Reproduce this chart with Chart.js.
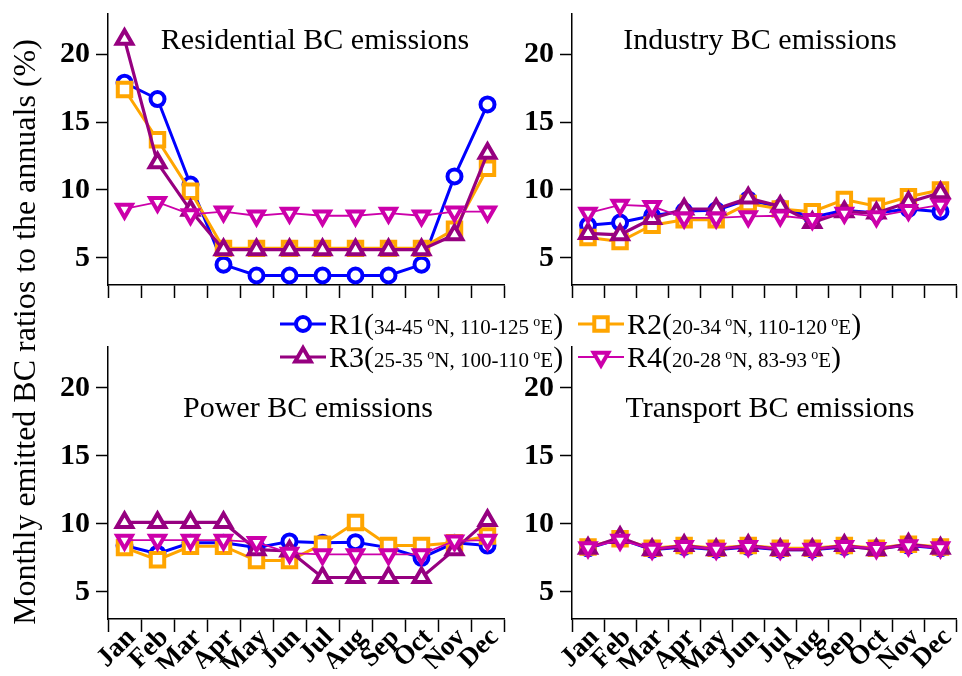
<!DOCTYPE html>
<html>
<head>
<meta charset="utf-8">
<script src="https://cdn.jsdelivr.net/npm/chart.js@4.4.1/dist/chart.umd.min.js"></script>
<style>
  html, body { margin: 0; padding: 0; background: #ffffff; overflow: hidden; }
  #wrap { position: relative; width: 970px; height: 676px; }
  #wrap canvas { position: absolute; left: 0; top: 0; }
</style>
</head>
<body>
<div id="wrap">
  <canvas id="cRes" width="970" height="676"></canvas>
  <canvas id="cInd" width="970" height="676"></canvas>
  <canvas id="cPow" width="970" height="676"></canvas>
  <canvas id="cTra" width="970" height="676"></canvas>
</div>
<script>
// ---------------- data ----------------
const MONTHS = ['Jan', 'Feb', 'Mar', 'Apr', 'May', 'Jun', 'Jul', 'Aug', 'Sep', 'Oct', 'Nov', 'Dec'];
const Y_TICKS = [5, 10, 15, 20];
const Y_MIN = 3;
const Y_MAX = 23;
const REGIONS = ['R1', 'R2', 'R3', 'R4'];
const REGION_EXTENTS = ['34-45 °N, 110-125 °E', '20-34 °N, 110-120 °E', '25-35 °N, 100-110 °E', '20-28 °N, 83-93 °E'];
const PANEL_TITLES = ['Residential BC emissions', 'Industry BC emissions', 'Power BC emissions', 'Transport BC emissions'];
const Y_TITLE = 'Monthly emitted BC ratios to the annuals (%)';

const RESIDENTIAL_R1 = [17.9, 16.7, 10.4, 4.5, 3.7, 3.7, 3.7, 3.7, 3.7, 4.5, 11.0, 16.3];
const RESIDENTIAL_R2 = [17.4, 13.7, 9.9, 5.7, 5.7, 5.7, 5.7, 5.7, 5.7, 5.7, 7.1, 11.6];
const RESIDENTIAL_R3 = [21.1, 12.0, 8.5, 5.6, 5.6, 5.6, 5.6, 5.6, 5.6, 5.6, 6.7, 12.7];
const RESIDENTIAL_R4 = [8.6, 9.1, 8.2, 8.4, 8.1, 8.3, 8.1, 8.1, 8.3, 8.1, 8.4, 8.4];

const INDUSTRY_R1 = [7.4, 7.6, 8.1, 8.45, 8.5, 9.3, 8.7, 8.0, 8.5, 8.3, 8.6, 8.4];
const INDUSTRY_R2 = [6.5, 6.2, 7.4, 7.8, 7.8, 9.0, 8.6, 8.4, 9.3, 8.8, 9.5, 10.0];
const INDUSTRY_R3 = [6.8, 6.7, 7.9, 8.6, 8.6, 9.4, 8.8, 7.6, 8.4, 8.3, 9.1, 9.8];
const INDUSTRY_R4 = [8.3, 8.9, 8.8, 7.95, 7.95, 8.05, 8.1, 7.85, 8.3, 8.05, 8.5, 8.9];

const POWER_R1 = [8.4, 7.8, 8.6, 8.6, 8.25, 8.7, 8.6, 8.65, 8.25, 7.5, 8.6, 8.4];
const POWER_R2 = [8.25, 7.35, 8.35, 8.35, 7.3, 7.3, 8.5, 10.1, 8.4, 8.4, 8.6, 9.1];
const POWER_R3 = [10.1, 10.1, 10.1, 10.1, 8.1, 8.0, 6.05, 6.05, 6.05, 6.05, 8.1, 10.25];
const POWER_R4 = [8.8, 8.8, 8.8, 8.8, 8.65, 7.85, 7.75, 7.75, 7.75, 7.75, 8.75, 8.8];

const TRANSPORT_R1 = [8.2, 8.9, 8.1, 8.3, 8.1, 8.3, 8.1, 8.1, 8.3, 8.2, 8.4, 8.2];
const TRANSPORT_R2 = [8.3, 8.9, 8.2, 8.4, 8.2, 8.4, 8.2, 8.2, 8.4, 8.2, 8.5, 8.3];
const TRANSPORT_R3 = [8.2, 9.0, 8.1, 8.4, 8.1, 8.4, 8.1, 8.1, 8.4, 8.1, 8.5, 8.2];
const TRANSPORT_R4 = [8.25, 8.8, 8.15, 8.35, 8.15, 8.35, 8.15, 8.15, 8.35, 8.2, 8.4, 8.25];

// ---------------- styles ----------------
const SERIES_STYLE = [
  { color: '#0000FF', pointStyle: 'circle',   pointRadius: 7,   pointRotation: 0,   borderWidth: 3,   pointBorderWidth: 4, order: 3 },
  { color: '#FFA500', pointStyle: 'rect',     pointRadius: 9.5, pointRotation: 0,   borderWidth: 3,   pointBorderWidth: 4, order: 2 },
  { color: '#960080', pointStyle: 'triangle', pointRadius: 9,   pointRotation: 0,   borderWidth: 3.2, pointBorderWidth: 4, order: 1 },
  { color: '#CC00AA', pointStyle: 'triangle', pointRadius: 8.5, pointRotation: 180, borderWidth: 1.8, pointBorderWidth: 4, order: 0 }
];
const SERIF = '"Liberation Serif", "Times New Roman", serif';
const CANVAS_W = 970, CANVAS_H = 676, Y_AXIS_W = 60, X_AXIS_H = 50;

// panel layout: chart-area boxes
const PANEL_BOXES = [
  { left: 108, right: 504, top: 13,  bottom: 285, labels: false, titleX: 315, titleY: 49 },
  { left: 572, right: 966, top: 13,  bottom: 285, labels: false, titleX: 760, titleY: 49 },
  { left: 108, right: 504, top: 347, bottom: 619, labels: true,  titleX: 308, titleY: 417 },
  { left: 572, right: 966, top: 347, bottom: 619, labels: true,  titleX: 770, titleY: 417 }
];

// ---------------- plugins ----------------
const panelTitlePlugin = {
  id: 'panelTitle',
  afterDraw(chart, args, opts) {
    if (!opts || !opts.text) return;
    const ctx = chart.ctx;
    ctx.save();
    ctx.font = '30px ' + SERIF;
    ctx.fillStyle = '#000';
    ctx.textAlign = 'center';
    ctx.textBaseline = 'alphabetic';
    ctx.fillText(opts.text, opts.x, opts.y);
    ctx.restore();
  }
};
Chart.register(panelTitlePlugin);

function drawMarker(ctx, st, x, y) {
  ctx.save();
  ctx.lineWidth = st.pointBorderWidth;
  ctx.strokeStyle = st.color;
  ctx.fillStyle = '#ffffff';
  ctx.beginPath();
  const r = st.pointRadius;
  if (st.pointStyle === 'circle') {
    ctx.arc(x, y, r, 0, Math.PI * 2);
  } else if (st.pointStyle === 'rect') {
    const s = r * Math.SQRT1_2;
    ctx.rect(x - s, y - s, 2 * s, 2 * s);
  } else {
    let rad = st.pointRotation * Math.PI / 180;
    for (let k = 0; k < 3; k++) {
      const px = x + Math.sin(rad) * r, py = y - Math.cos(rad) * r;
      if (k === 0) ctx.moveTo(px, py); else ctx.lineTo(px, py);
      rad += 2 * Math.PI / 3;
    }
    ctx.closePath();
  }
  ctx.fill();
  ctx.stroke();
  ctx.restore();
}

function drawLegendLabel(ctx, name, extent, x, yBase) {
  const BIG = '30px ' + SERIF, SMALL = '21px ' + SERIF, SUP = '14px ' + SERIF;
  ctx.fillStyle = '#000';
  ctx.textAlign = 'left';
  ctx.textBaseline = 'alphabetic';
  let cx = x;
  ctx.font = BIG;
  ctx.fillText(name + '(', cx, yBase);
  cx += ctx.measureText(name + '(').width;
  const parts = extent.split('°');
  parts.forEach((p, i) => {
    if (i > 0) {
      ctx.font = SUP;
      ctx.fillText('o', cx - 1, yBase - 8);
      cx += ctx.measureText('o').width - 1;
    }
    ctx.font = SMALL;
    ctx.fillText(p, cx, yBase);
    cx += ctx.measureText(p).width;
  });
  ctx.font = BIG;
  ctx.fillText(')', cx, yBase);
}

const LEGEND_SLOTS = [
  { x: 280, y: 324 }, { x: 578, y: 324 },
  { x: 280, y: 357 }, { x: 578, y: 357 }
];

const decorPlugin = {
  id: 'decor',
  afterDraw(chart) {
    const ctx = chart.ctx;
    ctx.save();
    // y-axis title
    ctx.translate(27, 332);
    ctx.rotate(-Math.PI / 2);
    ctx.font = '32px ' + SERIF;
    ctx.fillStyle = '#000';
    ctx.textAlign = 'center';
    ctx.textBaseline = 'middle';
    ctx.fillText(Y_TITLE, 0, 0);
    ctx.restore();
    // legend
    REGIONS.forEach((name, i) => {
      const st = SERIES_STYLE[i];
      const slot = LEGEND_SLOTS[i];
      ctx.save();
      ctx.strokeStyle = st.color;
      ctx.lineWidth = st.borderWidth;
      ctx.beginPath();
      ctx.moveTo(slot.x, slot.y);
      ctx.lineTo(slot.x + 46, slot.y);
      ctx.stroke();
      ctx.restore();
      drawMarker(ctx, st, slot.x + 23, slot.y);
      ctx.save();
      drawLegendLabel(ctx, name, REGION_EXTENTS[i], slot.x + 49, slot.y + 10);
      ctx.restore();
    });
  }
};

// ---------------- charts ----------------
const PANEL_DATA = [
  [RESIDENTIAL_R1, RESIDENTIAL_R2, RESIDENTIAL_R3, RESIDENTIAL_R4],
  [INDUSTRY_R1, INDUSTRY_R2, INDUSTRY_R3, INDUSTRY_R4],
  [POWER_R1, POWER_R2, POWER_R3, POWER_R4],
  [TRANSPORT_R1, TRANSPORT_R2, TRANSPORT_R3, TRANSPORT_R4]
];
const CANVAS_IDS = ['cRes', 'cInd', 'cPow', 'cTra'];

function zeroPad(s) { s.paddingTop = 0; s.paddingBottom = 0; s.paddingLeft = 0; s.paddingRight = 0; }

PANEL_DATA.forEach((series, p) => {
  const box = PANEL_BOXES[p];
  const datasets = series.map((vals, i) => {
    const st = SERIES_STYLE[i];
    return {
      label: REGIONS[i] + '(' + REGION_EXTENTS[i] + ')',
      data: vals,
      borderColor: st.color,
      backgroundColor: st.color,
      borderWidth: st.borderWidth,
      pointStyle: st.pointStyle,
      pointRadius: st.pointRadius,
      pointRotation: st.pointRotation,
      pointBorderWidth: st.pointBorderWidth,
      pointBorderColor: st.color,
      pointBackgroundColor: '#ffffff',
      tension: 0,
      order: st.order,
      clip: false
    };
  });
  new Chart(document.getElementById(CANVAS_IDS[p]), {
    type: 'line',
    data: { labels: MONTHS, datasets },
    options: {
      responsive: false,
      animation: false,
      devicePixelRatio: 1,
      events: [],
      layout: {
        padding: {
          left: box.left - Y_AXIS_W,
          right: CANVAS_W - box.right,
          top: box.top,
          bottom: CANVAS_H - box.bottom - X_AXIS_H
        }
      },
      plugins: {
        legend: { display: false },
        tooltip: { enabled: false },
        title: { display: false },
        panelTitle: { text: PANEL_TITLES[p], x: box.titleX, y: box.titleY }
      },
      scales: {
        x: {
          type: 'category',
          offset: true,
          afterFit: (s) => { s.height = X_AXIS_H; zeroPad(s); },
          grid: { offset: true, drawOnChartArea: false, drawTicks: true, tickLength: 13, tickColor: '#000', tickWidth: 1.5, color: '#000' },
          border: { display: true, color: '#000', width: 1.5 },
          ticks: {
            display: box.labels,
            autoSkip: false,
            maxRotation: 45,
            minRotation: 45,
            padding: -10,
            labelOffset: 7,
            color: '#000',
            font: { family: SERIF, size: 27, weight: 'bold' }
          }
        },
        y: {
          min: Y_MIN,
          max: Y_MAX,
          afterBuildTicks: (s) => { s.ticks = Y_TICKS.map(v => ({ value: v })); },
          afterFit: (s) => { s.width = Y_AXIS_W; zeroPad(s); },
          grid: { drawOnChartArea: false, drawTicks: true, tickLength: 12, tickColor: '#000', tickWidth: 1.5, color: '#000' },
          border: { display: true, color: '#000', width: 1.5 },
          ticks: {
            padding: 6,
            color: '#000',
            font: { family: SERIF, size: 30, weight: 'bold' }
          }
        }
      }
    },
    plugins: p === 0 ? [decorPlugin] : []
  });
});
</script>
</body>
</html>
